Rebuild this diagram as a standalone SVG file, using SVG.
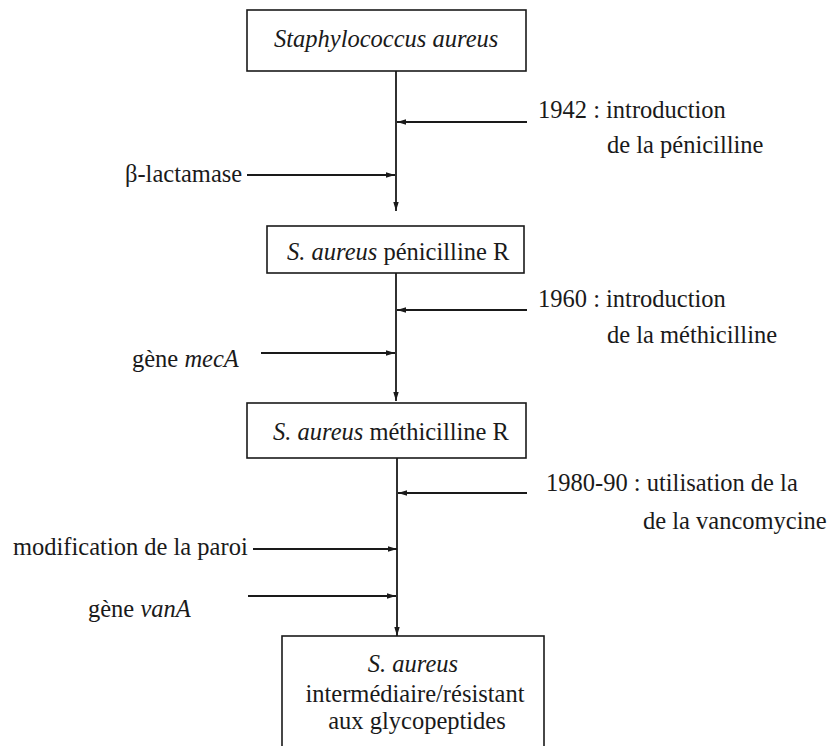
<svg xmlns="http://www.w3.org/2000/svg" width="829" height="746" viewBox="0 0 829 746">
  <style>
    .box { fill: #ffffff; stroke: #1a1a1a; stroke-width: 1.6; }
    .ln { stroke: #1a1a1a; stroke-width: 1.8; fill: none; }
    .t { font-family: 'Liberation Serif', 'Times New Roman', serif; font-size: 24.5px; fill: #1a1a1a; }
    .it { font-style: italic; }
    .mid { text-anchor: middle; }
  </style>
  <defs>
    <marker id="ah" viewBox="0 0 10 6" refX="10" refY="3" markerWidth="9" markerHeight="6" orient="auto" markerUnits="userSpaceOnUse">
      <path d="M0,0 L10,3 L0,6 z" fill="#1a1a1a"/>
    </marker>
  </defs>
  <rect width="829" height="746" fill="#ffffff"/>

  <g id="connectors">
    <line class="ln" x1="396" y1="71" x2="396" y2="211" marker-end="url(#ah)"/>
    <line class="ln" x1="527" y1="122" x2="397" y2="122" marker-end="url(#ah)"/>
    <line class="ln" x1="247" y1="175" x2="395" y2="175" marker-end="url(#ah)"/>
    <line class="ln" x1="396" y1="273" x2="396" y2="401" marker-end="url(#ah)"/>
    <line class="ln" x1="527" y1="310" x2="397" y2="310" marker-end="url(#ah)"/>
    <line class="ln" x1="261" y1="353" x2="395" y2="353" marker-end="url(#ah)"/>
    <line class="ln" x1="397" y1="458" x2="397" y2="636" marker-end="url(#ah)"/>
    <line class="ln" x1="527" y1="493" x2="398" y2="493" marker-end="url(#ah)"/>
    <line class="ln" x1="253" y1="549" x2="397" y2="549" marker-end="url(#ah)"/>
    <line class="ln" x1="248" y1="596" x2="396" y2="596" marker-end="url(#ah)"/>
  </g>

  <g class="t">
  <g id="node-staphylococcus">
    <rect class="box" x="247" y="10" width="279" height="61"/>
    <text class="it" x="274" y="47">Staphylococcus aureus</text>
  </g>

  <g id="node-penicilline-r">
    <rect class="box" x="267" y="226" width="257" height="47"/>
    <text x="287" y="260"><tspan class="it">S. aureus</tspan> pénicilline R</text>
  </g>

  <g id="node-methicilline-r">
    <rect class="box" x="247" y="403" width="279" height="55"/>
    <text x="273" y="440"><tspan class="it">S. aureus</tspan> méthicilline R</text>
  </g>

  <g id="node-glycopeptides">
    <rect class="box" x="282" y="636" width="262" height="130"/>
    <text class="it mid" x="413" y="672">S. aureus</text>
    <text class="mid" x="415" y="702">intermédiaire/résistant</text>
    <text class="mid" x="417" y="729">aux glycopeptides</text>
  </g>

  <g id="label-1942">
    <text x="538" y="118">1942 : introduction</text>
    <text x="607" y="153">de la pénicilline</text>
  </g>
  <g id="label-beta-lactamase">
    <text x="125" y="182">β-lactamase</text>
  </g>
  <g id="label-1960">
    <text x="538" y="307">1960 : introduction</text>
    <text x="607" y="343">de la méthicilline</text>
  </g>
  <g id="label-meca">
    <text x="132" y="367">gène <tspan class="it">mecA</tspan></text>
  </g>
  <g id="label-1980">
    <text x="546" y="491">1980-90 : utilisation de la</text>
    <text x="643" y="529">de la vancomycine</text>
  </g>
  <g id="label-paroi">
    <text x="13" y="555">modification de la paroi</text>
  </g>
  <g id="label-vana">
    <text x="88" y="617">gène <tspan class="it">vanA</tspan></text>
  </g>
  </g>
</svg>
